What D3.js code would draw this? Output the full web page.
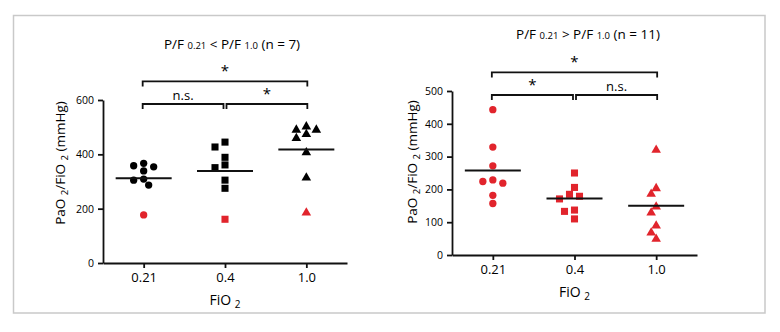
<!DOCTYPE html>
<html>
<head>
<meta charset="utf-8">
<script src="https://cdn.jsdelivr.net/npm/d3@7"></script>
<style>
  body { margin: 0; background: #fff; }
  text { font-family: "Open Sans", sans-serif; fill: #000; }
</style>
</head>
<body>
<svg id="chart" width="780" height="332"></svg>
<script>
// -------------------- DATA --------------------
const categories = ["0.21", "0.4", "1.0"];

// left panel : P/F 0.21 < P/F 1.0 (n = 7)
const leftBlack = [
  [367, 358, 354, 339, 309, 305, 287],
  [445, 427, 389, 361, 351, 305, 275],
  [502, 490, 490, 474, 459, 407, 314]
];
const leftRed = [[177], [161], [185]];
const leftMedians = [312, 339, 418];
const leftTicks = [0, 200, 400, 600];
const leftTests = [
  { a: 0, b: 2, level: 1, label: "*" },
  { a: 0, b: 1, level: 0, label: "n.s." },
  { a: 1, b: 2, level: 0, label: "*" }
];

// right panel : P/F 0.21 > P/F 1.0 (n = 11)
const rightBlack = [[], [], []];
const rightRed = [
  [443, 329, 272, 229, 224, 219, 182, 157],
  [250, 206, 185, 179, 171, 137, 133, 110],
  [320, 203, 186, 147, 129, 89, 68, 49]
];
const rightMedians = [258, 172, 150];
const rightTicks = [0, 100, 200, 300, 400, 500];
const rightTests = [
  { a: 0, b: 2, level: 1, label: "*" },
  { a: 0, b: 1, level: 0, label: "*" },
  { a: 1, b: 2, level: 0, label: "n.s." }
];

const red = "#e1242c";
const symbols = [d3.symbolCircle, d3.symbolSquare, d3.symbolTriangle];
const symbolSizes = [42, 50, 40];

const svg = d3.select("#chart");

// outer frame
svg.append("rect")
  .attr("x", 13.5).attr("y", 15.5)
  .attr("width", 751.5).attr("height", 297.5)
  .attr("fill", "none")
  .attr("stroke", "#c9c9c9")
  .attr("stroke-width", 1.5);

// simple beeswarm so points of the same height sit side by side
function swarm(points, y, step, minDist) {
  const placed = [];
  const order = points.map((p, i) => i).sort((i, j) => points[j].v - points[i].v);
  order.forEach(i => {
    const py = y(points[i].v);
    for (let k = 0; k < 30; k++) {
      const off = k === 0 ? 0 : (k % 2 ? -1 : 1) * Math.ceil(k / 2) * step;
      if (placed.every(p => Math.hypot(p.x - off, p.y - py) >= minDist)) {
        points[i].dx = off;
        placed.push({ x: off, y: py });
        break;
      }
    }
  });
  return points;
}

function panel(cfg) {
  const x = d3.scalePoint().domain(categories).range([cfg.x0, cfg.x1]).padding(0.5);
  const y = d3.scaleLinear().domain([0, cfg.max]).range([cfg.yBottom, cfg.yTop]);
  const g = svg.append("g");

  // axes
  const yAxis = g.append("g")
    .attr("transform", `translate(${cfg.x0},0)`)
    .call(d3.axisLeft(y).tickValues(cfg.ticks).tickSize(5).tickSizeOuter(0).tickPadding(4));
  yAxis.selectAll("text").style("font-size", "10.5px");

  const xAxis = g.append("g")
    .attr("transform", `translate(0,${cfg.yBottom})`)
    .call(d3.axisBottom(x).tickSize(5).tickSizeOuter(0).tickPadding(5));
  xAxis.selectAll("text").style("font-size", "13px");

  g.selectAll(".domain, .tick line").attr("stroke", "#111").attr("stroke-width", 1.8);

  // points
  categories.forEach((c, ci) => {
    const pts = cfg.black[ci].map(v => ({ v, col: "#000" }))
      .concat(cfg.red[ci].map(v => ({ v, col: red })));
    swarm(pts, y, 5, 7.3);
    g.selectAll(null)
      .data(pts)
      .enter()
      .append("path")
      .attr("d", d3.symbol().type(symbols[ci]).size(symbolSizes[ci]))
      .attr("transform", d => `translate(${x(c) + d.dx},${y(d.v)})`)
      .attr("fill", d => d.col);
  });

  // median lines
  g.selectAll(".median")
    .data(cfg.medians)
    .enter()
    .append("line")
    .attr("class", "median")
    .attr("x1", (d, i) => x(categories[i]) - 28)
    .attr("x2", (d, i) => x(categories[i]) + 28)
    .attr("y1", d => y(d))
    .attr("y2", d => y(d))
    .attr("stroke", "#111")
    .attr("stroke-width", 2);

  // significance brackets
  cfg.tests.forEach(t => {
    const by = cfg.yTop + 4 - t.level * 22.6;
    const xa = x(categories[t.a]) - 1 + (t.level === 0 && t.a === 1 ? 2.5 : 0);
    const xb = x(categories[t.b]) + 1 - (t.level === 0 && t.b === 1 ? 2.5 : 0);
    g.append("path")
      .attr("d", `M${xa},${by + 5}V${by}H${xb}V${by + 5}`)
      .attr("fill", "none")
      .attr("stroke", "#111")
      .attr("stroke-width", 1.8);
    g.append("text")
      .attr("x", (xa + xb) / 2)
      .attr("y", t.label === "*" ? by - 5 : by - 4)
      .attr("text-anchor", "middle")
      .style("font-size", t.label === "*" ? "15px" : "13px")
      .text(t.label);
  });

  // title
  const title = g.append("text")
    .attr("x", cfg.titleX).attr("y", cfg.titleY)
    .attr("text-anchor", "middle")
    .style("font-size", "13.5px");
  title.append("tspan").text("P/F ");
  title.append("tspan").style("font-size", "9.5px").text("0.21");
  title.append("tspan").text(` ${cfg.sign} P/F `);
  title.append("tspan").style("font-size", "9.5px").text("1.0");
  title.append("tspan").text(` (n = ${cfg.n})`);

  // y label
  const yl = g.append("text")
    .attr("transform", `translate(${cfg.ylabelX},${cfg.ylabelY}) rotate(-90)`)
    .attr("text-anchor", "middle")
    .style("font-size", "13.5px");
  yl.append("tspan").text("PaO ");
  yl.append("tspan").attr("dy", 3).style("font-size", "9.5px").text("2");
  yl.append("tspan").attr("dy", -3).text("/FiO ");
  yl.append("tspan").attr("dy", 3).style("font-size", "9.5px").text("2");
  yl.append("tspan").attr("dy", -3).text(" (mmHg)");

  // x label
  const xl = g.append("text")
    .attr("x", (cfg.x0 + cfg.x1) / 2).attr("y", cfg.xlabelY)
    .attr("text-anchor", "middle")
    .style("font-size", "14px");
  xl.append("tspan").text("FiO ");
  xl.append("tspan").attr("dy", 3).style("font-size", "10px").text("2");
}

panel({
  x0: 103, x1: 347, yTop: 100, yBottom: 263, max: 600, ticks: leftTicks,
  black: leftBlack, red: leftRed, medians: leftMedians, tests: leftTests,
  titleX: 232, titleY: 49, sign: "<", n: 7,
  ylabelX: 65, ylabelY: 163, xlabelY: 305
});

panel({
  x0: 452, x1: 697, yTop: 91, yBottom: 255, max: 500, ticks: rightTicks,
  black: rightBlack, red: rightRed, medians: rightMedians, tests: rightTests,
  titleX: 588, titleY: 39, sign: ">", n: 11,
  ylabelX: 417, ylabelY: 162, xlabelY: 297
});
</script>
</body>
</html>
